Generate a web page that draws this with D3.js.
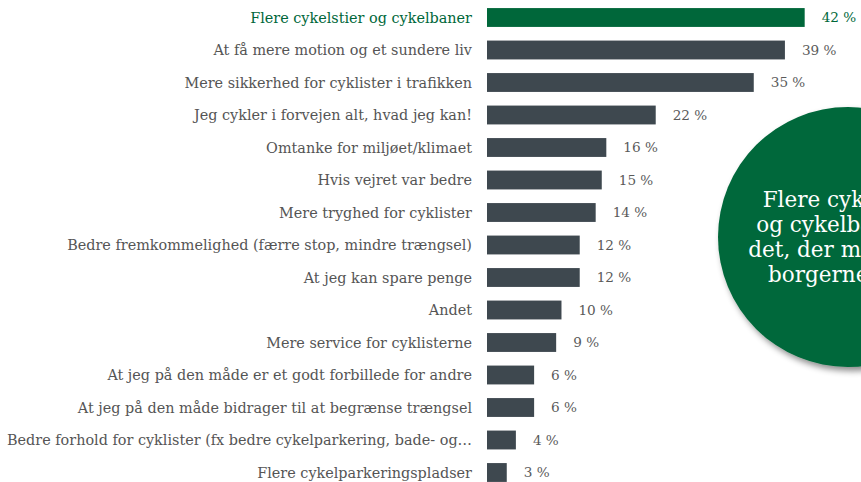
<!DOCTYPE html>
<html>
<head>
<meta charset="utf-8">
<script src="https://cdn.jsdelivr.net/npm/d3@7"></script>
<style>
  body { margin: 0; background: #fff; }
  #chart-area { width: 861px; height: 482px; overflow: hidden; }
</style>
</head>
<body>
<div id="chart-area"></div>
<script>
var categories = [
    "Flere cykelstier og cykelbaner",
    "At få mere motion og et sundere liv",
    "Mere sikkerhed for cyklister i trafikken",
    "Jeg cykler i forvejen alt, hvad jeg kan!",
    "Omtanke for miljøet/klimaet",
    "Hvis vejret var bedre",
    "Mere tryghed for cyklister",
    "Bedre fremkommelighed (færre stop, mindre trængsel)",
    "At jeg kan spare penge",
    "Andet",
    "Mere service for cyklisterne",
    "At jeg på den måde er et godt forbillede for andre",
    "At jeg på den måde bidrager til at begrænse trængsel",
    "Bedre forhold for cyklister (fx bedre cykelparkering, bade- og…",
    "Flere cykelparkeringspladser"
];
var values = [41.8, 39.2, 35.1, 22.2, 15.7, 15.1, 14.3, 12.2, 12.2, 9.8, 9.1, 6.2, 6.2, 3.8, 2.6];
var valueLabels = ["42 %", "39 %", "35 %", "22 %", "16 %", "15 %", "14 %", "12 %", "12 %", "10 %", "9 %", "6 %", "6 %", "4 %", "3 %"];
var calloutLines = ["Flere cykelstier", "og cykelbaner er", "det, der motiverer", "borgerne mest"];

var data = categories.map((c, i) => ({ category: c, value: values[i], label: valueLabels[i] }));

var width = 861;
var height = 482;
var barLeft = 487;
var green = "#00673a";
var barColor = "#3e484f";
var font = "'DejaVu Serif', serif";

var svg = d3.select("#chart-area")
    .append("svg")
    .attr("width", width)
    .attr("height", height)
    .style("background-color", "#fff");

const y = d3.scaleBand()
    .domain(categories)
    .range([1.25, 488.75])
    .paddingInner(0.42)
    .paddingOuter(0.21);

const x = d3.scaleLinear()
    .domain([0, 10])
    .range([barLeft, barLeft + 76]);

// bars
svg.selectAll(".bar")
    .data(data)
    .enter()
    .append("rect")
    .attr("class", "bar")
    .attr("x", x(0))
    .attr("y", d => y(d.category))
    .attr("width", d => x(d.value) - x(0))
    .attr("height", y.bandwidth())
    .attr("fill", (d, i) => i === 0 ? green : barColor);

// category labels
svg.selectAll(".cat-label")
    .data(data)
    .enter()
    .append("text")
    .attr("class", "cat-label")
    .attr("x", barLeft - 15)
    .attr("y", d => y(d.category) + y.bandwidth() / 2)
    .attr("dy", "0.36em")
    .attr("text-anchor", "end")
    .attr("font-family", font)
    .attr("font-size", "14.4px")
    .attr("fill", (d, i) => i === 0 ? green : "#555")
    .text(d => d.category);

// value labels
svg.selectAll(".value-label")
    .data(data)
    .enter()
    .append("text")
    .attr("class", "value-label")
    .attr("x", d => x(d.value) + 17)
    .attr("y", d => y(d.category) + y.bandwidth() / 2)
    .attr("dy", "0.36em")
    .attr("font-family", font)
    .attr("font-size", "13.6px")
    .attr("fill", (d, i) => i === 0 ? green : "#5a5a5a")
    .text(d => d.label);

// callout circle
var defs = svg.append("defs");
var shadow = defs.append("filter")
    .attr("id", "shadow")
    .attr("x", "-20%")
    .attr("y", "-20%")
    .attr("width", "150%")
    .attr("height", "150%");
shadow.append("feDropShadow")
    .attr("dx", 3)
    .attr("dy", 4)
    .attr("stdDeviation", 3)
    .attr("flood-color", "#000")
    .attr("flood-opacity", 0.45);

var callout = svg.append("g")
    .attr("transform", "translate(848, 237)");

callout.append("circle")
    .attr("r", 130)
    .attr("fill", green)
    .attr("filter", "url(#shadow)");

callout.selectAll("text")
    .data(calloutLines)
    .enter()
    .append("text")
    .attr("x", 0)
    .attr("y", (d, i) => -30 + i * 25)
    .attr("text-anchor", "middle")
    .attr("font-family", font)
    .attr("font-size", "21.5px")
    .attr("fill", "#fff")
    .text(d => d);
</script>
</body>
</html>
